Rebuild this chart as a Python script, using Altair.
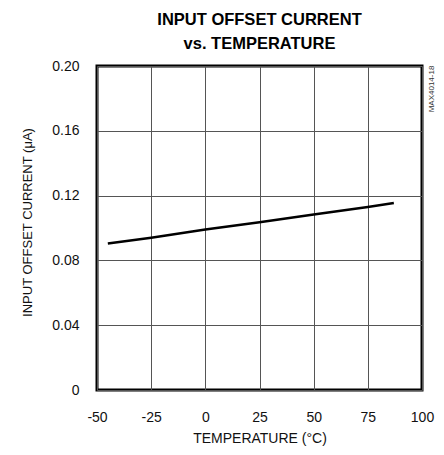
import altair as alt
import pandas as pd

temps = [-45, -25, 0, 25, 50, 75, 87]
current = [0.0904, 0.0940, 0.0991, 0.1036, 0.1084, 0.1130, 0.1155]
x_ticks = [-50, -25, 0, 25, 50, 75, 100]
y_ticks = [0, 0.04, 0.08, 0.12, 0.16, 0.20]
title_lines = ["INPUT OFFSET CURRENT", "vs. TEMPERATURE"]
side_note = ["MAX4014-18"]

FONT = "Liberation Sans, Arial, sans-serif"

df = pd.DataFrame({"t": temps, "i": current})

x_enc = alt.X("t:Q", scale=alt.Scale(domain=[-50, 100], nice=False),
              axis=alt.Axis(values=x_ticks, title="TEMPERATURE (°C)",
                            labelExpr="'' + datum.value", grid=True,
                            gridColor="#555", gridWidth=1, domain=False, ticks=False,
                            labelPadding=20, labelFontSize=14, titleFontSize=14,
                            titleFontWeight="normal", titleBaseline="alphabetic",
                            titleY=52, labelFlush=False,
                            labelFont=FONT, titleFont=FONT, labelColor="#111",
                            titleColor="#111"))
y_enc = alt.Y("i:Q", scale=alt.Scale(domain=[0, 0.2], nice=False),
              axis=alt.Axis(values=y_ticks, title="INPUT OFFSET CURRENT (μA)",
                            labelExpr="datum.value == 0 ? '0' : format(datum.value, '.2f')",
                            grid=True, gridColor="#555", gridWidth=1, domain=False,
                            ticks=False, labelPadding=18, labelFontSize=14,
                            labelFlush=False,
                            titleFontSize=13, titleFontWeight="normal",
                            titleX=-70, titleY=156, titleAngle=-90, titleBaseline="middle",
                            labelFont=FONT, titleFont=FONT, labelColor="#111",
                            titleColor="#111"))

line = alt.Chart(df).mark_line(color="black", strokeWidth=2.5).encode(x=x_enc, y=y_enc)

note = alt.Chart(pd.DataFrame({"s": side_note})).mark_text(
    angle=270, fontSize=8, font=FONT, color="#333", align="center", baseline="middle"
).encode(x=alt.value(335), y=alt.value(23), text="s:N")

chart = alt.layer(line, note).properties(
    width=325, height=324,
    title=alt.TitleParams(text=title_lines, font=FONT, fontSize=16.5, fontWeight="bold",
                          color="#000", anchor="middle", offset=7, lineHeight=23.5),
    autosize=alt.AutoSizeParams(type="none"),
    padding={"left": 89, "top": 58, "right": 14, "bottom": 57},
).configure_view(stroke="black", strokeWidth=3)

chart.save("out.html", embed_options={"renderer": "svg", "actions": False})
